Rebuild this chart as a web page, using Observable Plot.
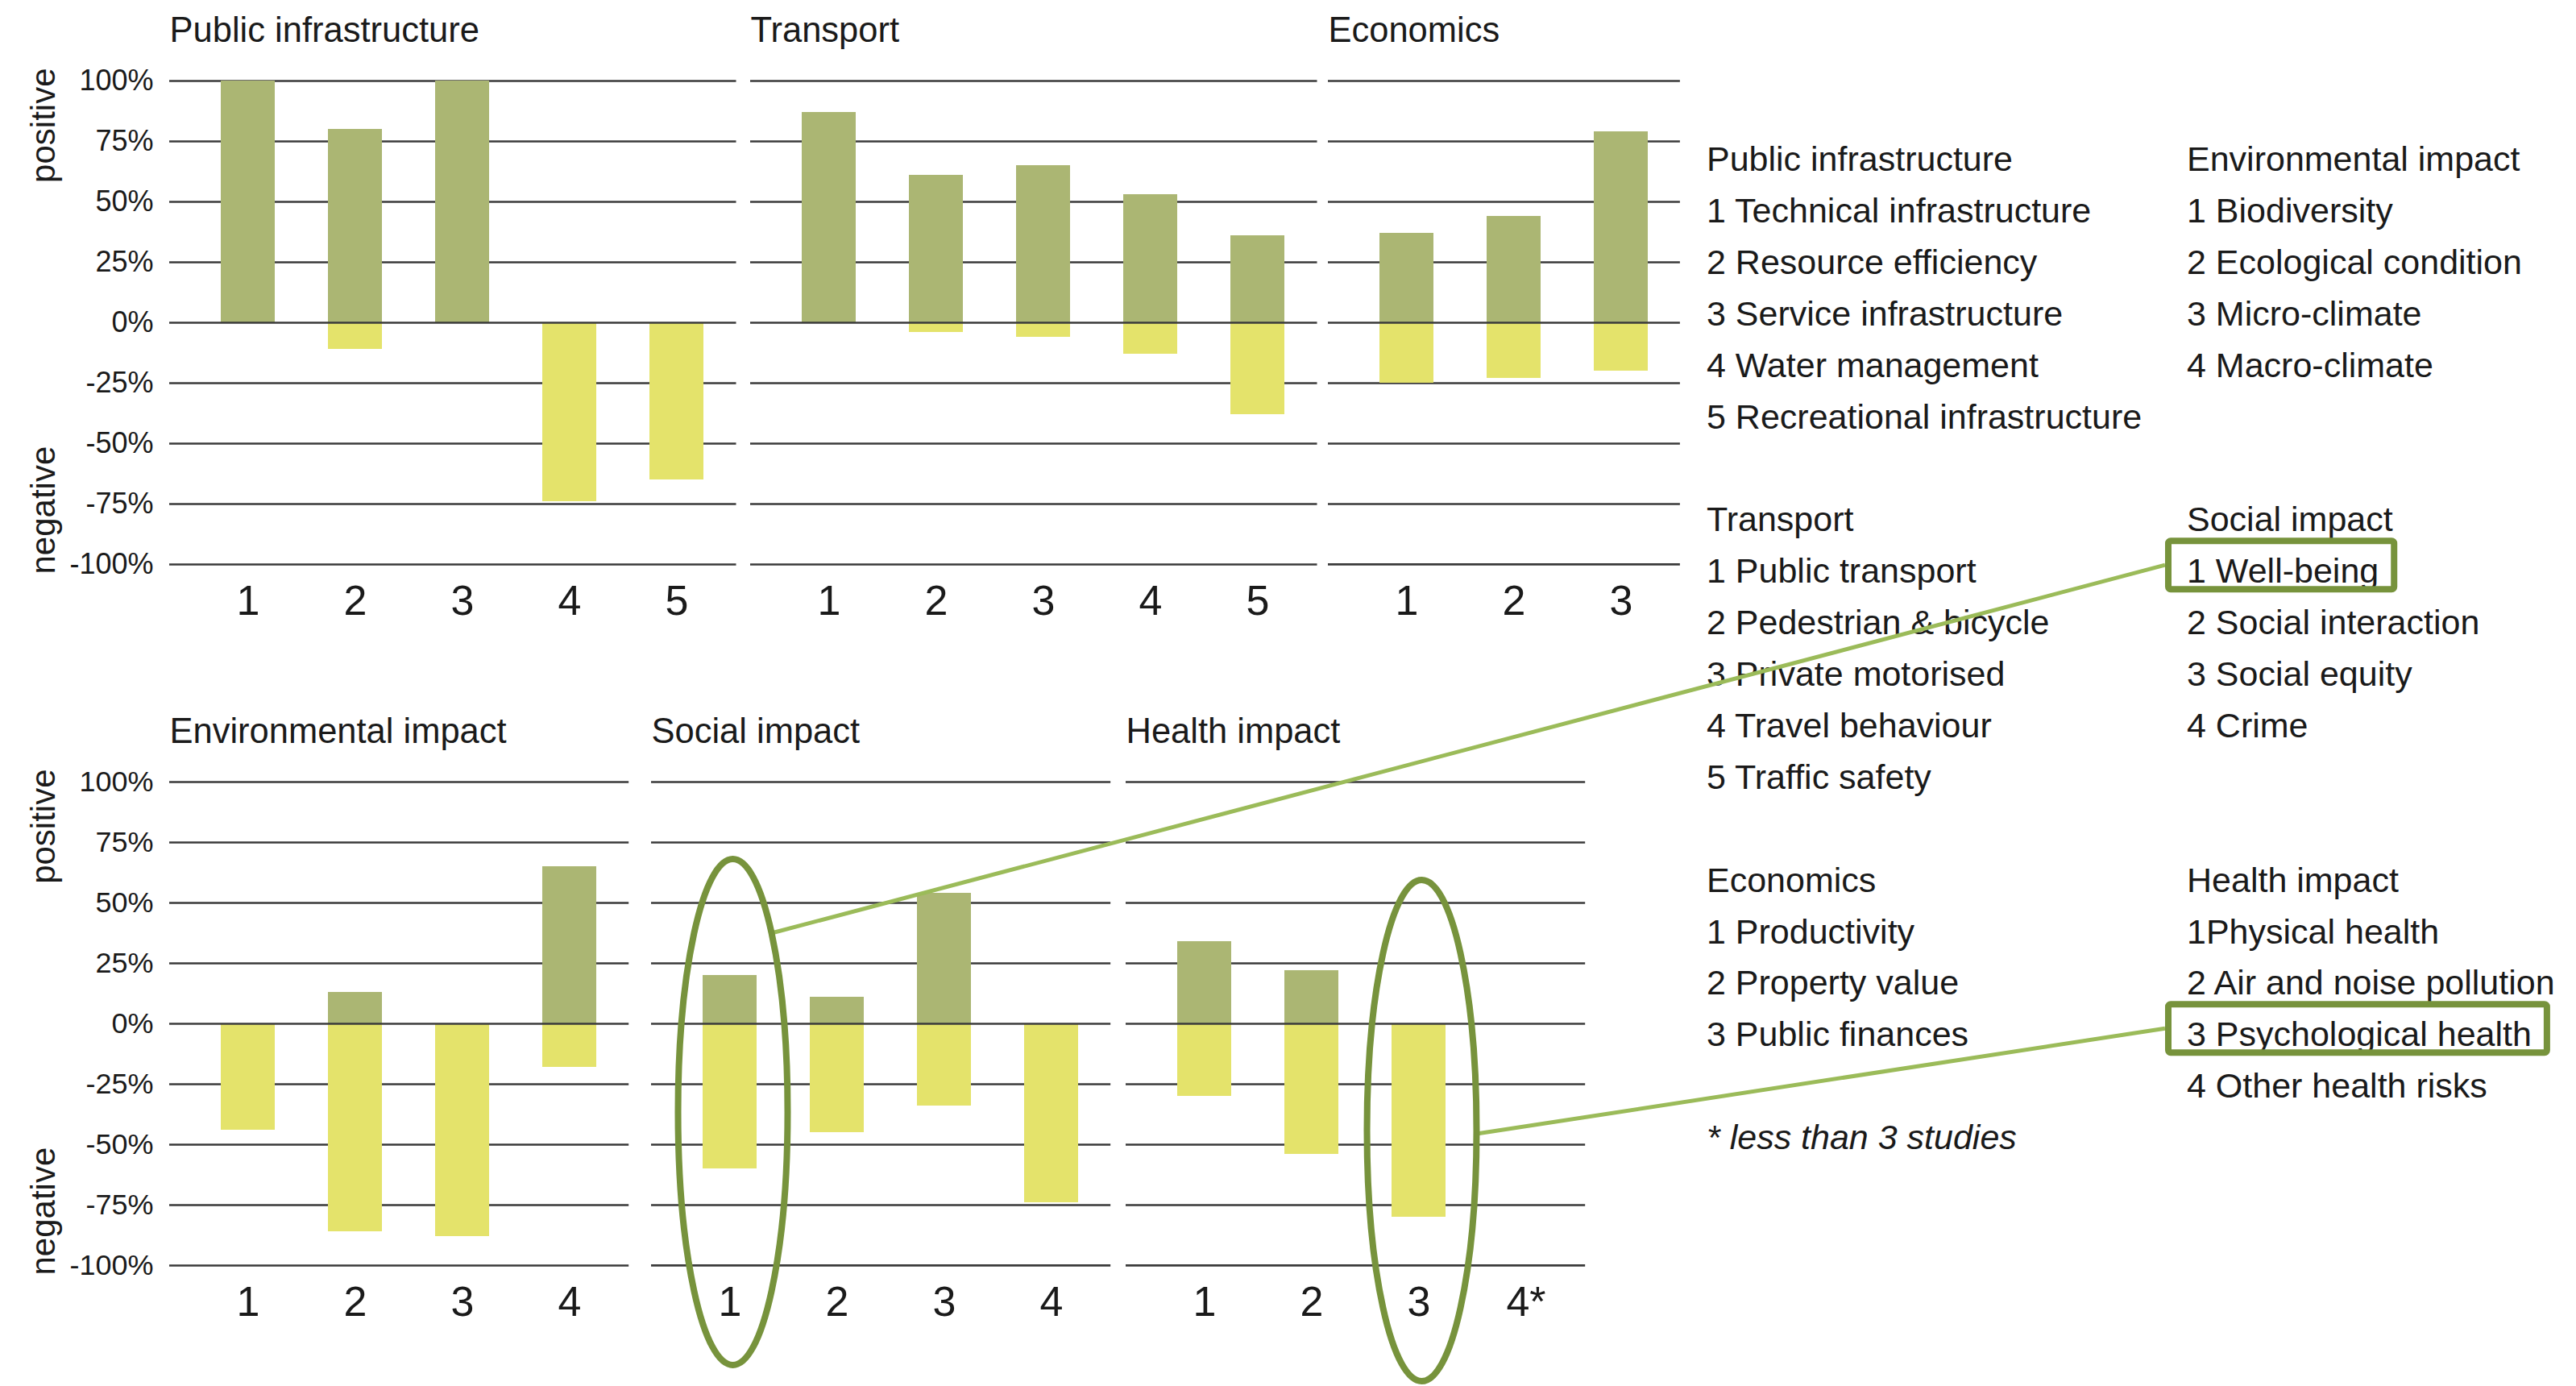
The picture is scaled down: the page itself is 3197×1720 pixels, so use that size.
<!DOCTYPE html>
<html>
<head>
<meta charset="utf-8">
<script src="https://cdn.jsdelivr.net/npm/d3@7"></script>
<script src="https://cdn.jsdelivr.net/npm/@observablehq/plot@0.6"></script>
<style>
  html, body { margin: 0; padding: 0; background: #ffffff; }
  #chart { position: relative; width: 3197px; height: 1720px; overflow: hidden;
           font-family: "Liberation Sans", Arial, Helvetica, sans-serif; color: #1e1e1e; }
  .panel { position: absolute; }
  #overlay { position: absolute; left: 0; top: 0; pointer-events: none; }
</style>
</head>
<body>
<div id="chart"></div>
<script>
// ---------------- DATA ----------------
const panelTitles = ["Public infrastructure", "Transport", "Economics",
                     "Environmental impact", "Social impact", "Health impact"];

const yTicks = [-1, -0.75, -0.5, -0.25, 0, 0.25, 0.5, 0.75, 1];

const piCategories = ["1", "2", "3", "4", "5"];
const piPositive   = [1.00, 0.80, 1.00, 0, 0];
const piNegative   = [0, -0.11, 0, -0.74, -0.65];

const trCategories = ["1", "2", "3", "4", "5"];
const trPositive   = [0.87, 0.61, 0.65, 0.53, 0.36];
const trNegative   = [0, -0.04, -0.06, -0.13, -0.38];

const ecCategories = ["1", "2", "3"];
const ecPositive   = [0.37, 0.44, 0.79];
const ecNegative   = [-0.25, -0.23, -0.20];

const envCategories = ["1", "2", "3", "4"];
const envPositive   = [0, 0.13, 0, 0.65];
const envNegative   = [-0.44, -0.86, -0.88, -0.18];

const socCategories = ["1", "2", "3", "4"];
const socPositive   = [0.20, 0.11, 0.54, 0];
const socNegative   = [-0.60, -0.45, -0.34, -0.74];

const heaCategories = ["1", "2", "3", "4*"];
const heaPositive   = [0.34, 0.22, 0, null];
const heaNegative   = [-0.30, -0.54, -0.80, null];

const legendPublic    = ["Public infrastructure", "1 Technical infrastructure", "2 Resource efficiency",
                         "3 Service infrastructure", "4 Water management", "5 Recreational infrastructure"];
const legendTransport = ["Transport", "1 Public transport", "2 Pedestrian & bicycle",
                         "3 Private motorised", "4 Travel behaviour", "5 Traffic safety"];
const legendEconomics = ["Economics", "1 Productivity", "2 Property value", "3 Public finances"];
const legendEnv       = ["Environmental impact", "1 Biodiversity", "2 Ecological condition",
                         "3 Micro-climate", "4 Macro-climate"];
const legendSocial    = ["Social impact", "1 Well-being", "2 Social interaction",
                         "3 Social equity", "4 Crime"];
const legendHealth    = ["Health impact", "1Physical health", "2 Air and noise pollution",
                         "3 Psychological health", "4 Other health risks"];
const footnote = "* less than 3 studies";
const axisPositive = "positive";
const axisNegative = "negative";

// ---------------- STYLE / LAYOUT ----------------
const POS_COLOR = "#abb673";
const NEG_COLOR = "#e4e36b";
const GRID = "#3a3a3a";
const TEXT = "#1a1a1a";
const RING = "#77933c";
const LINK = "#9bbb59";
const FONT = '"Liberation Sans", Arial, Helvetica, sans-serif';

const STEP = 133.3, INSET_L = 30, INSET_R = 7;

const panels = [
  {title: panelTitles[0], cats: piCategories, pos: piPositive, neg: piNegative, left: 210, top: 0, h: 800, yAxis: true},
  {title: panelTitles[1], cats: trCategories, pos: trPositive, neg: trNegative, left: 931, top: 0, h: 800},
  {title: panelTitles[2], cats: ecCategories, pos: ecPositive, neg: ecNegative, left: 1648, top: 0, h: 800},
  {title: panelTitles[3], cats: envCategories, pos: envPositive, neg: envNegative, left: 210, top: 870, h: 850, yAxis: true},
  {title: panelTitles[4], cats: socCategories, pos: socPositive, neg: socNegative, left: 808, top: 870, h: 850},
  {title: panelTitles[5], cats: heaCategories, pos: heaPositive, neg: heaNegative, left: 1397, top: 870, h: 850}
];

const chart = document.getElementById("chart");

function makePanel(p) {
  const extra = p.yAxis ? p.left : 0;
  const n = p.cats.length;
  const width = extra + INSET_L + n * STEP + INSET_R;
  const rows = p.cats.map((c, i) => ({cat: c, pos: p.pos[i], neg: p.neg[i]}));
  const marks = [
    Plot.ruleY(yTicks.filter(d => d !== 0), {stroke: GRID, strokeWidth: 2.7}),
    Plot.barY(rows.filter(d => d.pos != null), {x: "cat", y1: 0, y2: "pos", fill: POS_COLOR}),
    Plot.barY(rows.filter(d => d.neg != null), {x: "cat", y1: 0, y2: "neg", fill: NEG_COLOR}),
    Plot.ruleY([0], {stroke: GRID, strokeWidth: 2.7}),
    Plot.axisX({tickSize: 0, tickPadding: 26, fontSize: 52, label: null}),
    Plot.text([p.title], {frameAnchor: "top-left", dy: -79, lineAnchor: "top", textAnchor: "start", fontSize: 43.5, fill: TEXT})
  ];
  if (p.yAxis) {
    marks.push(
      Plot.axisY({ticks: yTicks, tickFormat: d => `${Math.round(d * 100)}%`, tickSize: 0, tickPadding: 20, fontSize: 36, label: null}),
      Plot.text([axisPositive], {y: () => 1, frameAnchor: "left", dx: -156, dy: -16, rotate: -90, textAnchor: "end", fontSize: 42, fill: TEXT}),
      Plot.text([axisNegative], {y: () => -1, frameAnchor: "left", dx: -156, dy: 12, rotate: -90, textAnchor: "start", fontSize: 42, fill: TEXT})
    );
  }
  const plot = Plot.plot({
    width, height: p.h,
    marginLeft: extra, marginRight: 0, marginTop: 100, marginBottom: p.h - 700,
    x: {type: "band", domain: p.cats, range: [extra + INSET_L, extra + INSET_L + n * STEP], paddingInner: 0.5, paddingOuter: 0.25},
    y: {domain: [-1, 1], range: [700, 100], axis: p.yAxis ? undefined : null},
    style: {fontFamily: FONT, color: TEXT, background: "transparent", overflow: "visible"},
    marks
  });
  const wrap = document.createElement("div");
  wrap.className = "panel";
  wrap.style.left = (p.left - extra) + "px";
  wrap.style.top = p.top + "px";
  wrap.appendChild(plot);
  chart.appendChild(wrap);
  return {plot, svgLeft: p.left - extra, svgTop: p.top};
}

const built = panels.map(makePanel);

// ---------------- LEGEND + ANNOTATIONS ----------------
const overlay = d3.select(chart).append("svg")
  .attr("id", "overlay").attr("width", 3197).attr("height", 1720)
  .style("font-family", FONT);

const COL1 = 2118, COL2 = 2714, BASE0 = 212, LINE = 63.9;
const baseline = k => BASE0 + LINE * k;

const legendBlocks = [
  {x: COL1, start: 0, lines: legendPublic},
  {x: COL1, start: 7, lines: legendTransport},
  {x: COL1, start: 14, lines: legendEconomics},
  {x: COL2, start: 0, lines: legendEnv},
  {x: COL2, start: 7, lines: legendSocial},
  {x: COL2, start: 14, lines: legendHealth}
];
const textNodes = {};
legendBlocks.forEach(b => {
  b.lines.forEach((t, i) => {
    const node = overlay.append("text")
      .attr("x", b.x).attr("y", baseline(b.start + i))
      .attr("font-size", 43).attr("fill", TEXT).text(t);
    textNodes[t] = {node: node.node(), x: b.x, y: baseline(b.start + i)};
  });
});
overlay.append("text").attr("x", COL1).attr("y", baseline(19))
  .attr("font-size", 43).attr("font-style", "italic").attr("fill", TEXT).text(footnote);

function boxFor(label) {
  const t = textNodes[label];
  const len = t.node.getComputedTextLength();
  return {x: t.x - 23, y: t.y - 52, w: len + 42, h: 60};
}

function bandCenter(idx, cat) {
  const b = built[idx];
  const xs = b.plot.scale("x");
  const ys = b.plot.scale("y");
  return {cx: b.svgLeft + xs.apply(cat) + xs.bandwidth / 2, y0: b.svgTop + ys.apply(0)};
}

const e1 = bandCenter(4, socCategories[0]);
const e2 = bandCenter(5, heaCategories[2]);
const ell1 = {cx: e1.cx + 4, cy: e1.y0 + 110, rx: 68, ry: 314};
const ell2 = {cx: e2.cx + 4, cy: e2.y0 + 133, rx: 68, ry: 311};
const box1 = boxFor(legendSocial[1]);
const box2 = boxFor(legendHealth[3]);

// connector lines
overlay.append("line")
  .attr("x1", ell1.cx + 48).attr("y1", ell1.cy - 222)
  .attr("x2", box1.x - 4).attr("y2", box1.y + box1.h / 2)
  .attr("stroke", LINK).attr("stroke-width", 5);
overlay.append("line")
  .attr("x1", ell2.cx + ell2.rx).attr("y1", ell2.cy + 4)
  .attr("x2", box2.x - 4).attr("y2", box2.y + box2.h / 2)
  .attr("stroke", LINK).attr("stroke-width", 5);

[ell1, ell2].forEach(e => overlay.append("ellipse")
  .attr("cx", e.cx).attr("cy", e.cy).attr("rx", e.rx).attr("ry", e.ry)
  .attr("fill", "none").attr("stroke", RING).attr("stroke-width", 8));

[box1, box2].forEach(b => overlay.append("rect")
  .attr("x", b.x).attr("y", b.y).attr("width", b.w).attr("height", b.h).attr("rx", 3)
  .attr("fill", "none").attr("stroke", RING).attr("stroke-width", 8));
</script>
</body>
</html>
